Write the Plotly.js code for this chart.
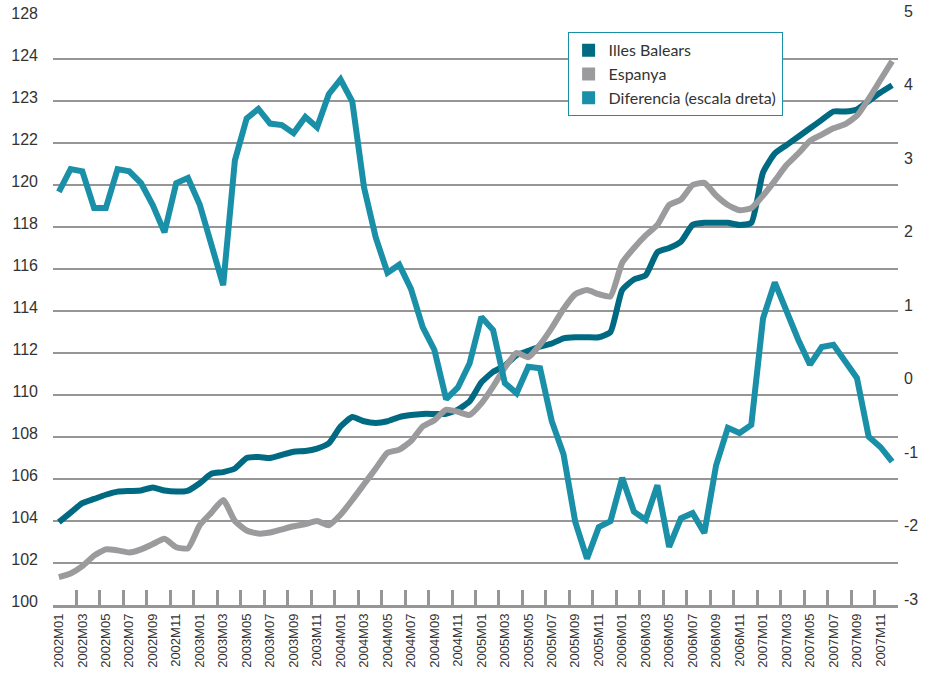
<!DOCTYPE html>
<html>
<head>
<meta charset="utf-8">
<script src="https://cdn.plot.ly/plotly-3.0.1.min.js"></script>
<style>
  html, body { margin: 0; padding: 0; background: #ffffff; }
  #chart { width: 929px; height: 681px; }
</style>
</head>
<body>
<div id="chart"></div>
<script>
// monthly labels 2002M01 .. 2007M12
const years = ['2002', '2003', '2004', '2005', '2006', '2007'];
const monthNums = ['01', '02', '03', '04', '05', '06', '07', '08', '09', '10', '11', '12'];
const months = [];
years.forEach(y => monthNums.forEach(m => months.push(y + 'M' + m)));

// Illes Balears index (left axis)
const balears = [
  103.95, 104.4, 104.85, 105.05, 105.25, 105.4, 105.43, 105.45, 105.6, 105.45,
  105.4, 105.45, 105.8, 106.25, 106.33, 106.5, 107.0, 107.05, 107.0, 107.15,
  107.3, 107.33, 107.45, 107.7, 108.5, 108.95, 108.75, 108.67, 108.75, 108.95,
  109.05, 109.1, 109.1, 109.1, 109.3, 109.7, 110.6, 111.1, 111.4, 111.9,
  112.1, 112.3, 112.45, 112.7, 112.75, 112.75, 112.75, 113.0, 115.0, 115.5,
  115.7, 116.8, 117.0, 117.3, 118.1, 118.2, 118.2, 118.2, 118.1, 118.2,
  120.6, 121.5, 121.9, 122.3, 122.7, 123.1, 123.5, 123.5, 123.6, 124.0,
  124.4, 124.75
];

// Espanya index (left axis)
const espanya = [
  101.33, 101.5, 101.85, 102.35, 102.65, 102.6, 102.5, 102.65, 102.9, 103.15,
  102.75, 102.7, 103.8, 104.4, 105.0, 104.0, 103.55, 103.4, 103.45, 103.6,
  103.75, 103.85, 104.0, 103.8, 104.3, 105.0, 105.75, 106.5, 107.25, 107.4,
  107.8, 108.5, 108.8, 109.3, 109.2, 109.05, 109.6, 110.4, 111.3, 112.0,
  111.8, 112.4, 113.2, 114.1, 114.8, 115.0, 114.8, 114.7, 116.3, 117.0,
  117.6, 118.1, 119.05, 119.3, 120.0, 120.1, 119.5, 119.05, 118.8, 118.9,
  119.5, 120.2, 120.95, 121.5, 122.1, 122.4, 122.7, 122.9, 123.3, 124.1,
  125.0, 125.9
];

// Diferencia (right axis)
const diferencia = [
  2.62, 2.93, 2.9, 2.4, 2.4, 2.93, 2.9, 2.74, 2.44, 2.07,
  2.74, 2.81, 2.45, 1.9, 1.35, 3.05, 3.62, 3.75, 3.55, 3.53,
  3.42, 3.64, 3.5, 3.95, 4.15, 3.85, 2.68, 2.0, 1.52, 1.63,
  1.3, 0.78, 0.47, -0.2, -0.04, 0.29, 0.92, 0.74, 0.02, -0.12,
  0.24, 0.22, -0.5, -0.95, -1.87, -2.37, -1.94, -1.86, -1.27, -1.73,
  -1.84, -1.37, -2.21, -1.82, -1.75, -2.02, -1.1, -0.59, -0.66, -0.55,
  0.9, 1.39, 0.99, 0.61, 0.27, 0.51, 0.54, 0.31, 0.09, -0.71,
  -0.85, -1.05
];

// left axis ticks (labels as printed on the original)
const leftTickVals = [100, 102, 104, 106, 108, 110, 112, 114, 116, 118, 120, 122, 124, 126, 128];
const leftTickText = ['100', '102', '104', '106', '108', '110', '112', '114', '116', '118', '120', '122', '123', '124', '128'];
const rightTickVals = [-3, -2, -1, 0, 1, 2, 3, 4, 5];
const rightTickText = ['-3', '-2', '-1', '0', '1', '2', '3', '4', '5'];

const seriesNames = ['Illes Balears', 'Espanya', 'Diferencia (escala dreta)'];
const seriesColors = ['#006a82', '#9b9b9e', '#1a8fa8'];

const xIdx = months.map((_, i) => i);
const labelIdx = xIdx.filter(i => i % 2 === 0);
const labelText = labelIdx.map(i => months[i]);
const boundaryTicks = labelIdx.map(i => i - 0.5).concat([months.length - 0.5]);
const xRange = [-0.5, months.length - 0.5];

const gray = '#969696';
const tickFont = { family: 'Liberation Sans, Arial, sans-serif', size: 16, color: '#333333' };

const traces = [
  {
    x: xIdx, y: balears, type: 'scatter', mode: 'lines', name: seriesNames[0],
    line: { color: seriesColors[0], width: 6, shape: 'spline', smoothing: 0.5 },
    showlegend: false, hoverinfo: 'skip'
  },
  {
    x: xIdx, y: espanya, type: 'scatter', mode: 'lines', name: seriesNames[1],
    line: { color: seriesColors[1], width: 6, shape: 'spline', smoothing: 0.5 },
    showlegend: false, hoverinfo: 'skip'
  },
  {
    x: xIdx, y: diferencia, type: 'scatter', mode: 'lines', name: seriesNames[2],
    yaxis: 'y2',
    line: { color: seriesColors[2], width: 6 },
    showlegend: false, hoverinfo: 'skip'
  }
];

// legend entries drawn as squares, like the original
seriesNames.forEach((name, k) => {
  traces.push({
    x: [null], y: [null], type: 'scatter', mode: 'markers', name: name,
    xaxis: 'x2',
    marker: { symbol: 'square', size: 13, color: seriesColors[k] },
    showlegend: true
  });
});

const layout = {
  width: 929,
  height: 681,
  margin: { l: 53, r: 31, t: 17, b: 76 },
  paper_bgcolor: '#ffffff',
  plot_bgcolor: '#ffffff',
  showlegend: true,
  legend: {
    x: 0.609, y: 0.974, xanchor: 'left', yanchor: 'top',
    bgcolor: '#ffffff', bordercolor: '#1a8fa8', borderwidth: 1,
    font: { family: 'Lato, Open Sans, sans-serif', size: 16, color: '#333333' },
    tracegroupgap: 0
  },
  xaxis: {
    range: xRange,
    tickmode: 'array',
    tickvals: boundaryTicks,
    showticklabels: false,
    ticks: 'inside', ticklen: 15, tickwidth: 3, tickcolor: gray,
    showgrid: false, zeroline: false,
    showline: true, linecolor: gray, linewidth: 3
  },
  xaxis2: {
    overlaying: 'x', anchor: 'y', side: 'bottom',
    range: xRange,
    tickmode: 'array',
    tickvals: labelIdx,
    ticktext: labelText,
    tickangle: -90,
    ticks: '',
    ticklabelstandoff: 5,
    tickfont: { family: 'Liberation Sans, Arial, sans-serif', size: 13, color: '#333333' },
    showgrid: false, zeroline: false, showline: false
  },
  yaxis: {
    range: [100, 128],
    tickmode: 'array',
    tickvals: leftTickVals,
    ticktext: leftTickText,
    ticks: '',
    ticklabelstandoff: 14,
    ticklabelshift: -4,
    tickfont: tickFont,
    showgrid: true, gridcolor: gray, gridwidth: 1.5,
    zeroline: false, showline: false
  },
  yaxis2: {
    overlaying: 'y', side: 'right',
    range: [-3, 5],
    tickmode: 'array',
    tickvals: rightTickVals,
    ticktext: rightTickText,
    ticks: '',
    ticklabelstandoff: 5,
    ticklabelshift: -6,
    tickfont: tickFont,
    showgrid: false, zeroline: false, showline: false
  }
};

Plotly.newPlot('chart', traces, layout, { staticPlot: true, displayModeBar: false });
</script>
</body>
</html>
